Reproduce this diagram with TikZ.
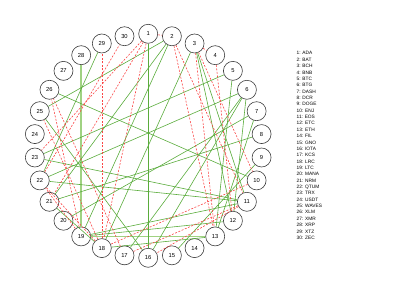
\documentclass[tikz,border=0pt]{standalone}
\usepackage{fontspec}
\setmainfont{Liberation Sans}
\usetikzlibrary{calc}
\definecolor{VerdeCorr}{RGB}{90,172,60}
\definecolor{VerdeClaro}{RGB}{160,210,130}
\definecolor{RojoCorr}{RGB}{250,70,70}
\definecolor{GrisBorde}{RGB}{60,60,60}
\tikzset{
  coinbox/.style={circle, draw=GrisBorde, line width=0.6pt, fill=white,
    minimum size=19pt, inner sep=0pt, font=\fontsize{5.8}{6}\selectfont},
  poscorr/.style={draw=VerdeCorr, line width=0.6pt},
  negcorr/.style={draw=RojoCorr, line width=0.6pt, dash pattern=on 2pt off 1.5pt},
  fuertecorr/.style={draw=VerdeClaro, line width=1.8pt},
  leyenda/.style={align=left, anchor=north west, inner sep=0pt,
    font=\fontsize{4.8}{6.36}\selectfont},
}
\begin{document}
\begin{tikzpicture}[x=1pt,y=1pt]
  \useasboundingbox (0,0) rectangle (415,291);
  \coordinate (centro) at (148.2,145.2);

  \node[coinbox] (c1) at ($(centro)+(90:114 and 112)$) {1};
  \node[coinbox] (c2) at ($(centro)+(78:114 and 112)$) {2};
  \node[coinbox] (c3) at ($(centro)+(66:114 and 112)$) {3};
  \node[coinbox] (c4) at ($(centro)+(54:114 and 112)$) {4};
  \node[coinbox] (c5) at ($(centro)+(42:114 and 112)$) {5};
  \node[coinbox] (c6) at ($(centro)+(30:114 and 112)$) {6};
  \node[coinbox] (c7) at ($(centro)+(18:114 and 112)$) {7};
  \node[coinbox] (c8) at ($(centro)+(6:114 and 112)$) {8};
  \node[coinbox] (c9) at ($(centro)+(-6:114 and 112)$) {9};
  \node[coinbox] (c10) at ($(centro)+(-18:114 and 112)$) {10};
  \node[coinbox] (c11) at ($(centro)+(-30:114 and 112)$) {11};
  \node[coinbox] (c12) at ($(centro)+(-42:114 and 112)$) {12};
  \node[coinbox] (c13) at ($(centro)+(-54:114 and 112)$) {13};
  \node[coinbox] (c14) at ($(centro)+(-66:114 and 112)$) {14};
  \node[coinbox] (c15) at ($(centro)+(-78:114 and 112)$) {15};
  \node[coinbox] (c16) at ($(centro)+(-90:114 and 112)$) {16};
  \node[coinbox] (c17) at ($(centro)+(-102:114 and 112)$) {17};
  \node[coinbox] (c18) at ($(centro)+(-114:114 and 112)$) {18};
  \node[coinbox] (c19) at ($(centro)+(-126:114 and 112)$) {19};
  \node[coinbox] (c20) at ($(centro)+(-138:114 and 112)$) {20};
  \node[coinbox] (c21) at ($(centro)+(-150:114 and 112)$) {21};
  \node[coinbox] (c22) at ($(centro)+(-162:114 and 112)$) {22};
  \node[coinbox] (c23) at ($(centro)+(-174:114 and 112)$) {23};
  \node[coinbox] (c24) at ($(centro)+(174:114 and 112)$) {24};
  \node[coinbox] (c25) at ($(centro)+(162:114 and 112)$) {25};
  \node[coinbox] (c26) at ($(centro)+(150:114 and 112)$) {26};
  \node[coinbox] (c27) at ($(centro)+(138:114 and 112)$) {27};
  \node[coinbox] (c28) at ($(centro)+(126:114 and 112)$) {28};
  \node[coinbox] (c29) at ($(centro)+(114:114 and 112)$) {29};
  \node[coinbox] (c30) at ($(centro)+(102:114 and 112)$) {30};

  \node[leyenda] (lista) at (296.5,239.5)
    {1: ADA\\2: BAT\\3: BCH\\4: BNB\\5: BTC\\6: BTG\\7: DASH\\8: DCR\\9: DOGE\\10: ENJ\\
     11: EOS\\12: ETC\\13: ETH\\14: FIL\\15: GNO\\16: IOTA\\17: KCS\\18: LRC\\19: LTC\\20: MANA\\
     21: NRM\\22: QTUM\\23: TRX\\24: USDT\\25: WAVES\\26: XLM\\27: XMR\\28: XRP\\29: XTZ\\30: ZEC};

  % correlaciones fuertes
  \draw[fuertecorr] (c28) -- (c19);
  \draw[fuertecorr] (c19) -- (c13);
  % correlaciones positivas
  \draw[poscorr] (c1) -- (c16);
  \draw[poscorr] (c2) -- (c25);
  \draw[poscorr] (c2) -- (c19);
  \draw[poscorr] (c2) -- (c21);
  \draw[poscorr] (c3) -- (c11);
  \draw[poscorr] (c3) -- (c12);
  \draw[poscorr] (c3) -- (c18);
  \draw[poscorr] (c5) -- (c13);
  \draw[poscorr] (c5) -- (c23);
  \draw[poscorr] (c6) -- (c12);
  \draw[poscorr] (c6) -- (c16);
  \draw[poscorr] (c6) -- (c17);
  \draw[poscorr] (c6) -- (c22);
  \draw[poscorr] (c7) -- (c13);
  \draw[poscorr] (c7) -- (c20);
  \draw[poscorr] (c8) -- (c21);
  \draw[poscorr] (c9) -- (c15);
  \draw[poscorr] (c10) -- (c26);
  \draw[poscorr] (c11) -- (c19);
  \draw[poscorr] (c11) -- (c22);
  \draw[poscorr] (c11) -- (c23);
  \draw[poscorr] (c12) -- (c19);
  \draw[poscorr] (c13) -- (c18);
  \draw[poscorr] (c16) -- (c25);
  \draw[poscorr] (c18) -- (c21);
  \draw[poscorr] (c22) -- (c29);
  % correlaciones negativas
  \draw[negcorr] (c1) -- (c2);
  \draw[negcorr] (c1) -- (c18);
  \draw[negcorr] (c1) -- (c21);
  \draw[negcorr] (c1) -- (c23);
  \draw[negcorr] (c2) -- (c11);
  \draw[negcorr] (c2) -- (c13);
  \draw[negcorr] (c3) -- (c4);
  \draw[negcorr] (c3) -- (c10);
  \draw[negcorr] (c3) -- (c13);
  \draw[negcorr] (c4) -- (c12);
  \draw[negcorr] (c10) -- (c18);
  \draw[negcorr] (c11) -- (c16);
  \draw[negcorr] (c11) -- (c17);
  \draw[negcorr] (c17) -- (c26);
  \draw[negcorr] (c18) -- (c22);
  \draw[negcorr] (c18) -- (c25);
  \draw[negcorr] (c18) -- (c29);
  \draw[negcorr] (c19) -- (c22);
  \draw[negcorr] (c19) -- (c26);
  \draw[negcorr] (c22) -- (c30);
\end{tikzpicture}
\end{document}
